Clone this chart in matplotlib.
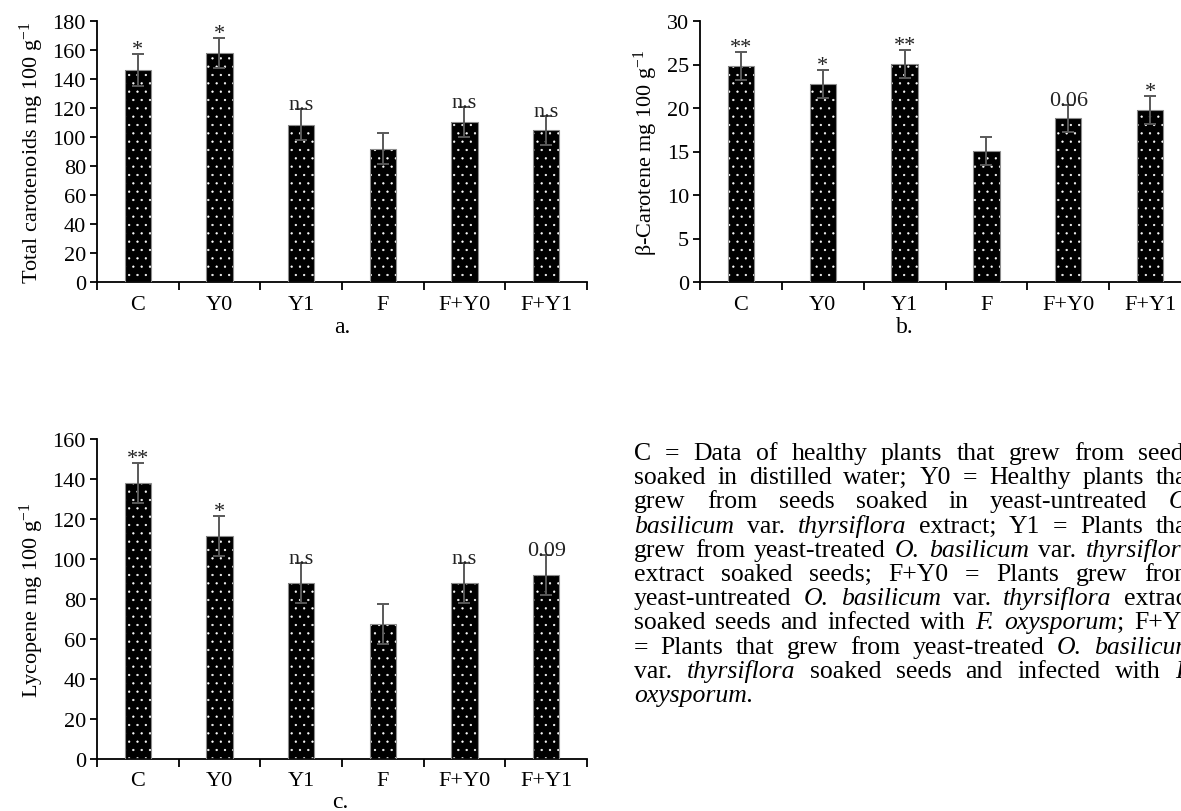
import numpy as np
import matplotlib
matplotlib.use("Agg")
import matplotlib.pyplot as plt

plt.rcParams['font.family'] = ['Liberation Serif', 'DejaVu Serif']
plt.rcParams['mathtext.fontset'] = 'custom'
plt.rcParams['mathtext.rm'] = 'Liberation Serif'
plt.rcParams['mathtext.it'] = 'Liberation Serif:italic'
plt.rcParams['hatch.linewidth'] = 0.4

# data
groups = ['C', 'Y0', 'Y1', 'F', 'F+Y0', 'F+Y1']

carot_vals = [146.5, 158, 108.5, 92, 110.5, 104.5]
carot_err = [11, 10.5, 10.5, 10.5, 10.5, 10]
carot_sig = ['*', '*', 'n.s', '', 'n.s', 'n.s']

beta_vals = [24.8, 22.8, 25.1, 15.1, 18.8, 19.8]
beta_err = [1.6, 1.6, 1.6, 1.6, 1.6, 1.6]
beta_sig = ['**', '*', '**', '', '0.06', '*']

lyco_vals = [138, 111.5, 88, 67.5, 88, 92]
lyco_err = [10, 10, 10, 10, 10, 10]
lyco_sig = ['**', '*', 'n.s', '', 'n.s', '0.09']

caption = [
    "C = Data of healthy plants that grew from seeds",
    "soaked in distilled water; Y0 = Healthy plants that",
    "grew from seeds soaked in yeast-untreated *O.*",
    "*basilicum* var. *thyrsiflora* extract; Y1 = Plants that",
    "grew from yeast-treated *O.* *basilicum* var. *thyrsiflora*",
    "extract soaked seeds; F+Y0 = Plants grew from",
    "yeast-untreated *O.* *basilicum* var. *thyrsiflora* extract",
    "soaked seeds and infected with *F.* *oxysporum*; F+Y1",
    "= Plants that grew from yeast-treated *O.* *basilicum*",
    "var. *thyrsiflora* soaked seeds and infected with *F.*",
    "*oxysporum.*",
]

W, H = 1181, 812
fig = plt.figure(figsize=(W / 100, H / 100), dpi=100)


def px_axes(left, right, top, bottom):
    return fig.add_axes([left / W, 1 - bottom / H, (right - left) / W, (bottom - top) / H])


def panel(ax, vals, errs, sig, ymax, ystep, ylabel, fs=16):
    x = np.arange(len(groups))
    ax.bar(x, vals, width=0.32, color='black', edgecolor='white', hatch='..', linewidth=0, zorder=2)
    ax.bar(x, vals, width=0.32, fill=False, edgecolor='#8c8c8c', linewidth=0.8, zorder=3)
    ax.errorbar(x, vals, yerr=errs, fmt='none', ecolor='#595959', elinewidth=1.4,
                capsize=4, capthick=1.4, zorder=4)
    for xi, v, e, s in zip(x, vals, errs, sig):
        if s:
            ax.text(xi, v + e, s, ha='center', va='baseline', fontsize=fs, color='#222222', zorder=5)
    ax.set_xlim(-0.5, len(groups) - 0.5)
    ax.set_ylim(0, ymax)
    ax.set_yticks(np.arange(0, ymax + 0.1, ystep))
    ax.set_xticks(x)
    ax.set_xticklabels(groups)
    ax.set_xticks(np.arange(-0.5, len(groups)), minor=True)
    ax.tick_params(axis='x', which='major', length=0, pad=9, labelsize=fs)
    ax.tick_params(axis='x', which='minor', length=6, width=1.3, direction='out')
    ax.tick_params(axis='y', length=5, width=1.3, direction='out', labelsize=fs, pad=3)
    for side in ['top', 'right']:
        ax.spines[side].set_visible(False)
    for side in ['left', 'bottom']:
        ax.spines[side].set_linewidth(1.3)
    ax.set_ylabel(ylabel, fontsize=fs, labelpad=5)


ax1 = px_axes(97, 587, 22, 283)
panel(ax1, carot_vals, carot_err, carot_sig, 180, 20, r'Total carotenoids mg 100 g$^{-1}$')
ax2 = px_axes(700, 1191, 22, 283)
panel(ax2, beta_vals, beta_err, beta_sig, 30, 5, r'β-Carotene mg 100 g$^{-1}$')
ax3 = px_axes(97, 587, 440, 760)
panel(ax3, lyco_vals, lyco_err, lyco_sig, 160, 20, r'Lycopene mg 100 g$^{-1}$')

fig.text(342 / W, 1 - 328 / H, 'a.', ha='center', va='center', fontsize=17)
fig.text(905 / W, 1 - 328 / H, 'b.', ha='center', va='center', fontsize=17)
fig.text(340 / W, 1 - 803 / H, 'c.', ha='center', va='center', fontsize=17)

# justified caption block
cap_left, cap_right = 634, 1194
cap_top, cap_pitch = 460, 24.2
cap_fs = 18.5
renderer = fig.canvas.get_renderer()


def parse_word(word):
    parts = word.split('*')
    segs = []
    for i, p in enumerate(parts):
        if p:
            segs.append((p, i % 2 == 1))
    return segs


for li, line in enumerate(caption):
    y = 1 - (cap_top + li * cap_pitch) / H
    words = [parse_word(w) for w in line.split(' ')]
    objs = []
    widths = []
    for segs in words:
        wobjs = []
        ww = 0
        for txt, it in segs:
            t = fig.text(0, y, txt, fontsize=cap_fs, style='italic' if it else 'normal',
                         va='baseline', ha='left')
            bw = t.get_window_extent(renderer).width
            wobjs.append((t, bw))
            ww += bw
        objs.append(wobjs)
        widths.append(ww)
    last = li == len(caption) - 1
    total = sum(widths)
    if last or len(words) < 2:
        gap = cap_fs * 100 / 72 * 0.25
    else:
        gap = max((cap_right - cap_left - total) / (len(words) - 1), cap_fs * 100 / 72 * 0.2)
    xpos = cap_left
    for wobjs, ww in zip(objs, widths):
        xx = xpos
        for t, bw in wobjs:
            t.set_x(xx / W)
            xx += bw
        xpos += ww + gap

fig.savefig('out.png', dpi=100)
